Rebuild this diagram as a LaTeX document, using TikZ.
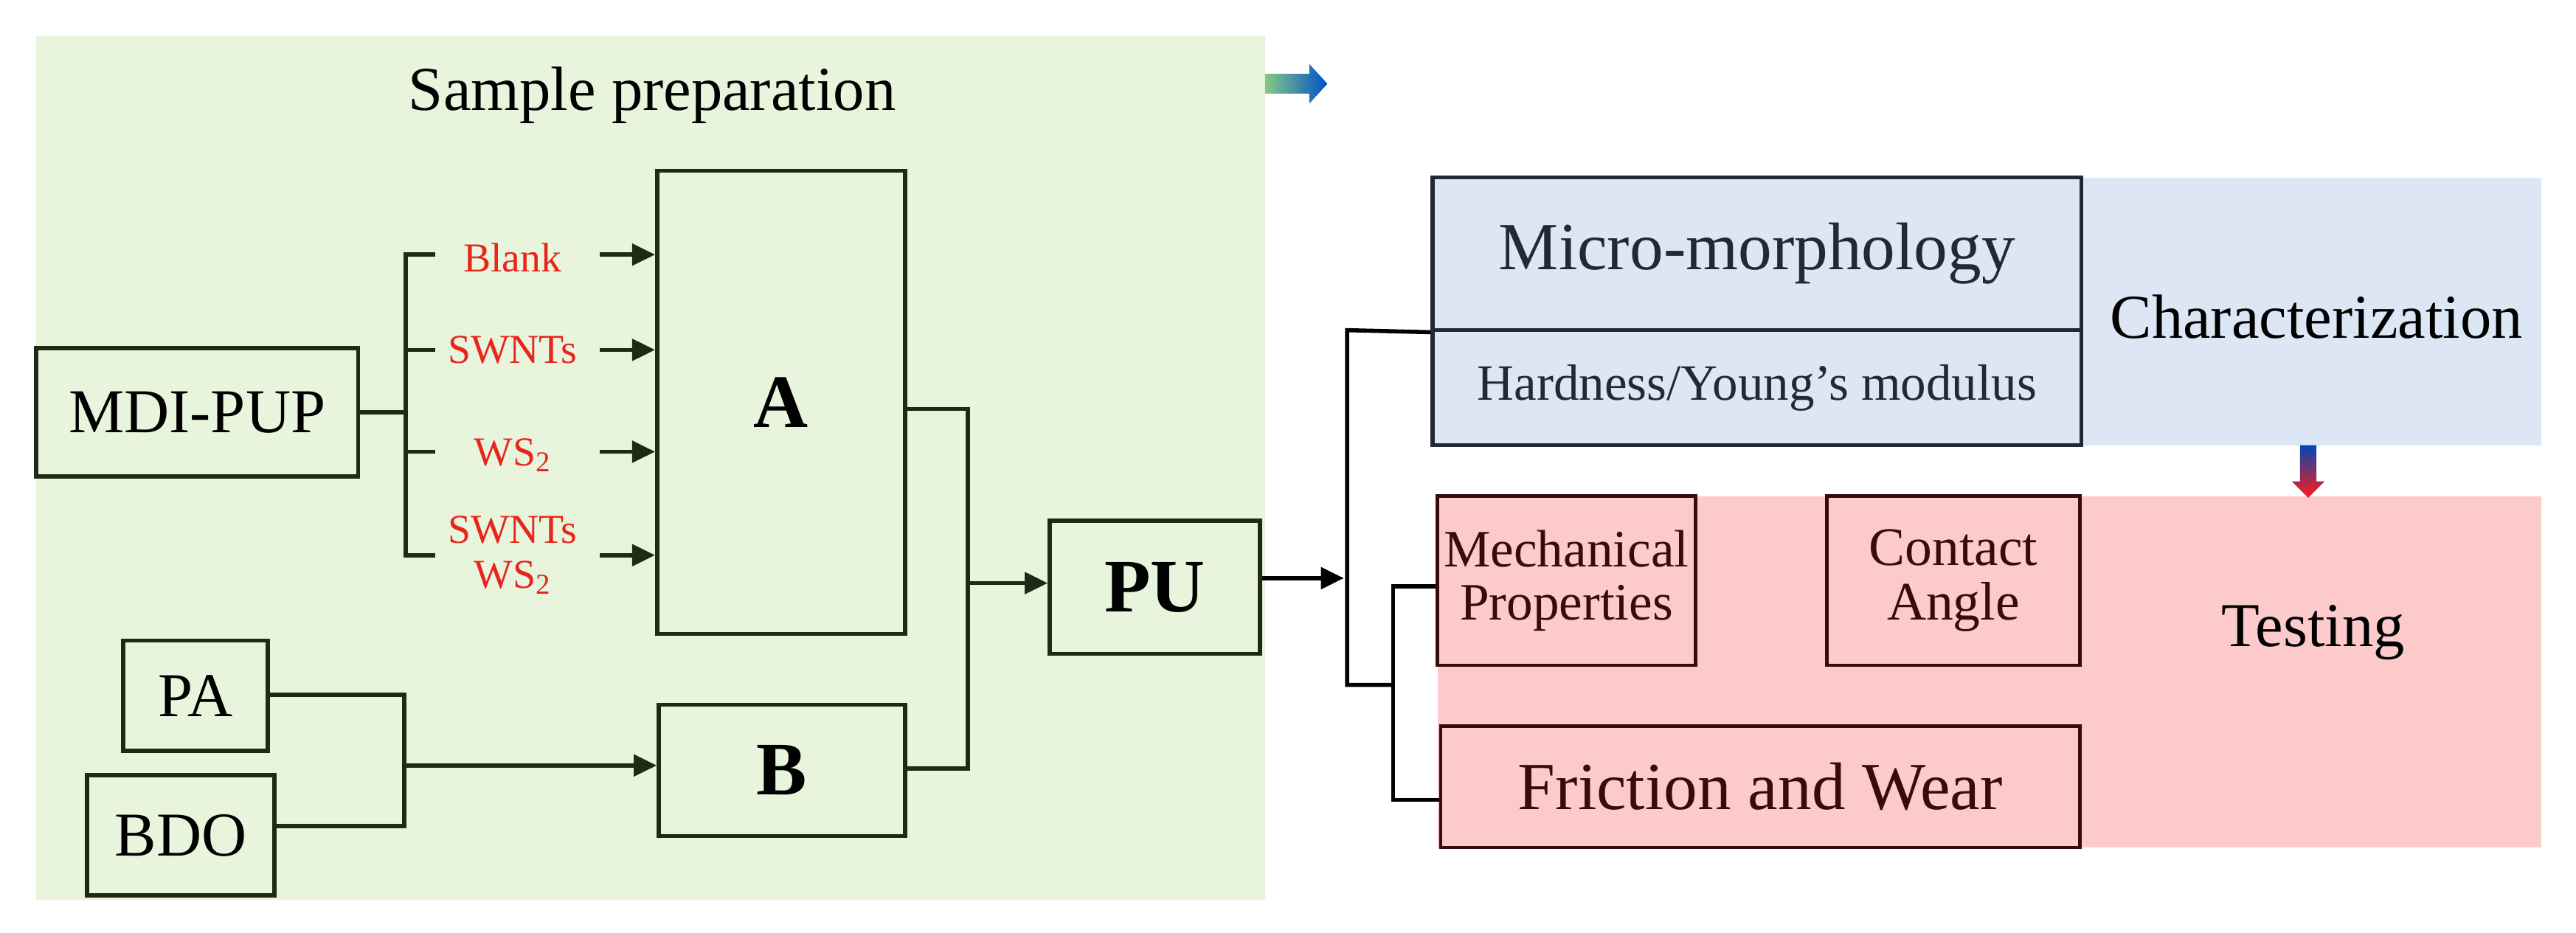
\documentclass[tikz,border=0pt]{standalone}
\usepackage{fontspec}
\setmainfont{Liberation Serif}
\usetikzlibrary{arrows.meta,calc}
\definecolor{gbg}{HTML}{E8F4DC}
\definecolor{bbg}{HTML}{DCE6F4}
\definecolor{pbg}{HTML}{FCCACA}
\definecolor{dk}{HTML}{1E2A14}
\definecolor{bdk}{HTML}{1F2937}
\definecolor{rdk}{HTML}{3A0A0A}
\definecolor{rtxt}{HTML}{E8251A}
\tikzset{
  box/.style={draw=dk,line width=2.5pt,inner sep=0pt},
  bbox/.style={draw=bdk,line width=2.5pt,inner sep=0pt,text=bdk},
  rbox/.style={draw=rdk,line width=2pt,inner sep=0pt,text=rdk},
  lbl/.style={text=rtxt,font=\fontsize{25}{27}\selectfont,align=center,inner sep=0pt},
  ln/.style={draw=dk,line width=2.5pt},
  kl/.style={draw=black,line width=2.5pt},
  arr/.style={-{Triangle[length=14pt,width=13pt]}},
  big/.style={font=\fontsize{38}{40}\selectfont},
}
\begin{document}
\begin{tikzpicture}[x=1pt,y=-1pt]
\useasboundingbox (0,0) rectangle (1568,568);
\fill[white] (0,0) rectangle (1568,568);
% backgrounds
\fill[gbg] (22,22) rectangle (770,548);
\fill[bbg] (872,108) rectangle (1547,271);
\fill[pbg] (875,302) rectangle (1547,516);
% gradient arrows
\shade[left color=gbg!60!green!60!gray, right color=blue!60!cyan!80!black]
  (770,45) -- (797,45) -- (797,39) -- (808,51) -- (797,63) -- (797,57) -- (770,57) -- cycle;
\shade[top color=blue!60!cyan!70!black, bottom color=red!90]
  (1400,271) -- (1410,271) -- (1410,293) -- (1415,293) -- (1405,303) -- (1395,293) -- (1400,293) -- cycle;
\node[big,text=black] (sp) at (397,58) {Sample preparation};
% left boxes
\node[box,big,minimum width=196pt,minimum height=78pt] (mdi) at (120,251) {MDI-PUP};
\node[box,font=\bfseries\fontsize{46}{48}\selectfont,minimum width=151pt,minimum height=282pt] (A) at (475.5,245) {A};
\node[box,font=\bfseries\fontsize{46}{48}\selectfont,minimum width=150pt,minimum height=80pt] (B) at (476,469) {B};
\node[box,font=\bfseries\fontsize{46}{48}\selectfont,minimum width=128pt,minimum height=81pt] (PU) at (703,357.5) {PU};
\node[box,big,minimum width=88pt,minimum height=67pt] (PA) at (119,423.5) {PA};
\node[box,big,minimum width=114pt,minimum height=73pt] (BDO) at (110,508.5) {BDO};
% labels
\node[lbl] (l1) at (312,157) {Blank};
\node[lbl] (l2) at (312,213) {SWNTs};
\node[lbl] (l3) at (312,277) {WS\textsubscript{2}};
\node[lbl] (l4) at (312,338) {SWNTs\\WS\textsubscript{2}};
% branch
\coordinate (j1) at (247,251);
\coordinate (s1) at (265,155);\coordinate (s2) at (265,213);
\coordinate (s3) at (265,275);\coordinate (s4) at (265,338);
\draw[ln] (mdi.east) -- (j1);
\draw[ln] (s1) -| (247,338) -- (s4);
\draw[ln] (247,213) -- (s2);
\draw[ln] (247,275) -- (s3);
\foreach \y/\n in {155/a1,213/a2,275/a3,338/a4}{
  \coordinate (\n) at (365,\y);
  \draw[ln,arr] (\n) -- (A.west |- \n);
}
% PA/BDO
\draw[ln] (PA.east |- 0,423) -| (246,503) -- (BDO.east |- 0,503);
\coordinate (j2) at (246,466);
\draw[ln,arr] (j2) -- (B.west |- j2);
% A/B to PU
\draw[ln] (A.east |- 0,249) -| (589,468) -- (B.east |- 0,468);
\coordinate (j3) at (589,355);
\draw[ln,arr] (j3) -- (PU.west |- j3);
\coordinate (j4) at (818,352);
\draw[kl,arr] (PU.east |- j4) -- (j4);
% right boxes
\node[bbox,font=\fontsize{41}{43}\selectfont,minimum width=395pt,minimum height=93pt] (micro) at (1069.5,154.5) {Micro-morphology};
\node[bbox,font=\fontsize{31}{33}\selectfont,minimum width=395pt,minimum height=70pt] (hard) at (1069.5,236) {Hardness/Young's modulus};
\node[big,text=black] (char) at (1410,193) {Characterization};
\node[rbox,font=\fontsize{32}{32}\selectfont,align=center,minimum width=157pt,minimum height=103pt] (mech) at (953.5,353.5) {Mechanical\\Properties};
\node[rbox,font=\fontsize{33}{33}\selectfont,align=center,minimum width=154pt,minimum height=103pt] (cont) at (1189,353.5) {Contact\\Angle};
\node[rbox,font=\fontsize{41}{43}\selectfont,minimum width=389pt,minimum height=74pt] (fric) at (1071.5,479) {Friction and Wear};
\node[big,text=black] (test) at (1408,385) {Testing};
% right connectors
\draw[kl] (micro.south west) -- (820,201) -- (820,417) -- (848,417);
\draw[kl] (mech.west |- 0,357) -- (848,357) -- (848,487) -- (fric.west |- 0,487);
\end{tikzpicture}
\end{document}
